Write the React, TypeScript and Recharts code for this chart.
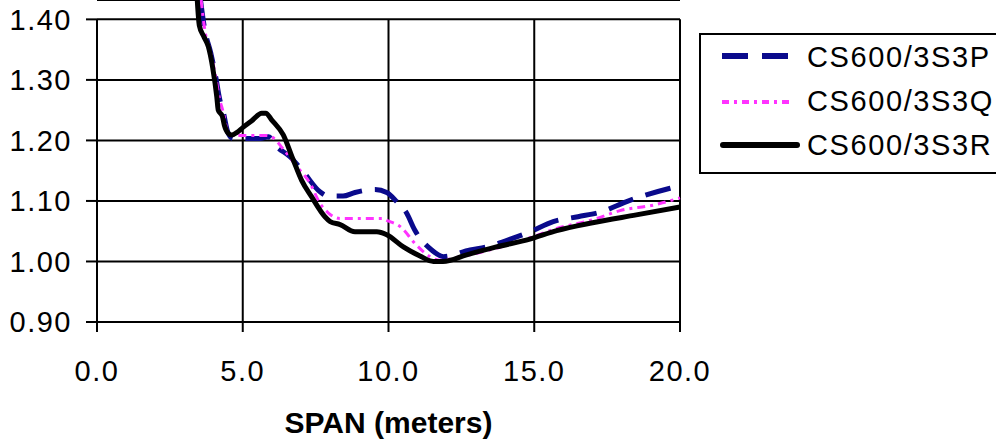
import React from 'react';
import { LineChart, Line, XAxis, YAxis, CartesianGrid, ReferenceLine } from 'recharts';

// span (m) and ratio values
const spanP = [3.55, 3.7, 3.9, 4.08, 4.2, 4.33, 4.5, 4.68, 5.0, 5.3, 5.6, 5.88, 6.16, 6.62, 7.08, 7.65, 7.93, 8.44, 8.85, 9.54, 9.94, 10.28, 10.62, 10.9, 11.48, 11.88, 12.8, 13.37, 14.3, 14.85, 15.65, 16.5, 17.31, 18.17, 19.66, 20.0];
const valueP = [1.432, 1.382, 1.345, 1.303, 1.27, 1.247, 1.212, 1.203, 1.203, 1.203, 1.203, 1.206, 1.19, 1.173, 1.148, 1.115, 1.108, 1.108, 1.114, 1.119, 1.114, 1.099, 1.08, 1.052, 1.019, 1.008, 1.019, 1.024, 1.039, 1.049, 1.066, 1.074, 1.082, 1.099, 1.121, 1.125];

const spanQ = [3.57, 3.7, 3.9, 4.08, 4.2, 4.33, 4.5, 4.67, 5.0, 5.5, 5.83, 5.99, 6.4, 6.8, 7.31, 7.65, 7.94, 8.34, 9.0, 9.81, 9.94, 10.39, 10.96, 11.42, 11.77, 12.3, 12.8, 14.97, 15.6, 17.14, 17.94, 19.07, 20.0];
const valueQ = [1.432, 1.382, 1.345, 1.303, 1.27, 1.247, 1.212, 1.208, 1.208, 1.208, 1.208, 1.206, 1.185, 1.16, 1.129, 1.096, 1.08, 1.071, 1.071, 1.071, 1.068, 1.058, 1.027, 1.008, 1.002, 1.006, 1.011, 1.041, 1.052, 1.071, 1.084, 1.093, 1.105];

const spanR = [3.44, 3.51, 3.66, 3.82, 3.97, 4.11, 4.16, 4.3, 4.37, 4.5, 4.62, 4.79, 5.02, 5.3, 5.65, 5.79, 5.99, 6.39, 6.73, 7.02, 7.36, 7.82, 8.0, 8.34, 8.85, 9.6, 9.94, 10.51, 11.08, 11.54, 11.87, 12.68, 13.7, 14.85, 15.77, 17.0, 18.5, 20.0];
const valueR = [1.432, 1.39, 1.372, 1.355, 1.32, 1.272, 1.25, 1.24, 1.225, 1.212, 1.209, 1.213, 1.222, 1.232, 1.245, 1.245, 1.234, 1.209, 1.168, 1.134, 1.107, 1.074, 1.066, 1.061, 1.049, 1.049, 1.044, 1.024, 1.009, 1.0, 1.0, 1.011, 1.024, 1.037, 1.051, 1.064, 1.077, 1.09];

const xTicks = [0, 5, 10, 15, 20];
const yTicks = [0.9, 1.0, 1.1, 1.2, 1.3, 1.4];
const seriesNames = ['CS600/3S3P', 'CS600/3S3Q', 'CS600/3S3R'];

const toPoints = (xs: number[], ys: number[]) => xs.map((x, i) => ({ x, y: ys[i] }));

const dataP = toPoints(spanP, valueP);
const dataQ = toPoints(spanQ, valueQ);
const dataR = toPoints(spanR, valueR);

const FONT = '"Liberation Sans", Arial, sans-serif';
const tickStyle = { fontSize: 29, fill: '#000', fontFamily: FONT, letterSpacing: 1.5 };

const ChartLegend = () => (
    <svg width={300} height={145} style={{ position: 'absolute', left: 699, top: 32 }}>
        <rect x={1} y={2} width={330} height={139} fill="#fff" stroke="#000" strokeWidth={2} />
        <line x1={23} x2={91} y1={24} y2={24} stroke="#0a0a8c" strokeWidth={6} strokeDasharray="26 14" />
        <line x1={23} x2={93} y1={70} y2={70} stroke="#ff33ff" strokeWidth={4} strokeDasharray="7 5 3 5" />
        <line x1={24} x2={98} y1={113} y2={113} stroke="#000" strokeWidth={6} strokeLinecap="round" />
        {seriesNames.map((name, i) => (
            <text
                key={name}
                x={108}
                y={[25, 69, 113][i]}
                dominantBaseline="central"
                fontSize={29}
                fontFamily={FONT}
                letterSpacing={1.6}
                fill="#000"
            >
                {name}
            </text>
        ))}
    </svg>
);

const App: React.FC = () => {
    return (
        <div style={{ position: 'absolute', left: 0, top: 0, width: 996, height: 441, overflow: 'hidden', background: '#fff', fontFamily: FONT }}>
            <LineChart width={996} height={441} margin={{ top: 0, right: 316, bottom: 0, left: 0 }}>
                <CartesianGrid vertical={false} stroke="#000" strokeWidth={2} />
                {xTicks.map((t) => (
                    <ReferenceLine
                        key={t}
                        segment={[{ x: t, y: 0.9 }, { x: t, y: 1.4 }]}
                        stroke="#000"
                        strokeWidth={2}
                    />
                ))}
                <XAxis
                    type="number"
                    dataKey="x"
                    domain={[0, 20]}
                    ticks={xTicks}
                    interval={0}
                    height={119}
                    tickSize={10}
                    tickMargin={28}
                    axisLine={{ stroke: '#000', strokeWidth: 2 }}
                    tickLine={{ stroke: '#000', strokeWidth: 2 }}
                    tick={tickStyle}
                    tickFormatter={(v: number) => v.toFixed(1)}
                    label={{
                        value: 'SPAN (meters)',
                        position: 'insideBottom',
                        offset: 8,
                        fontSize: 30,
                        fontWeight: 700,
                        fill: '#000',
                        fontFamily: FONT,
                    }}
                />
                <YAxis
                    type="number"
                    domain={[0.9, 1.432]}
                    ticks={yTicks}
                    interval={0}
                    width={97}
                    tickSize={11}
                    tickMargin={14}
                    axisLine={false}
                    tickLine={{ stroke: '#000', strokeWidth: 2 }}
                    tick={tickStyle}
                    tickFormatter={(v: number) => v.toFixed(2)}
                />
                <Line
                    data={dataP}
                    dataKey="y"
                    type="monotone"
                    stroke="#0a0a8c"
                    strokeWidth={5}
                    strokeDasharray="26 13"
                    dot={false}
                    isAnimationActive={false}
                />
                <Line
                    data={dataQ}
                    dataKey="y"
                    type="monotone"
                    stroke="#ff33ff"
                    strokeWidth={3}
                    strokeDasharray="8 5 3 5"
                    dot={false}
                    isAnimationActive={false}
                />
                <Line
                    data={dataR}
                    dataKey="y"
                    type="monotone"
                    stroke="#000"
                    strokeWidth={5}
                    dot={false}
                    isAnimationActive={false}
                />
            </LineChart>
            <ChartLegend />
        </div>
    );
};

export default App;
